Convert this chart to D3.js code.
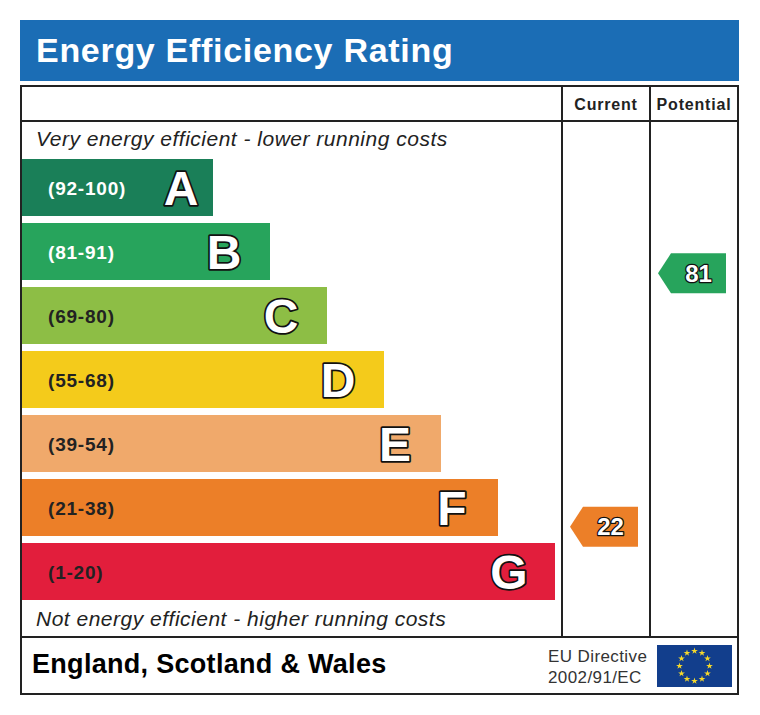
<!DOCTYPE html>
<html>
<head>
<meta charset="utf-8">
<script src="https://cdn.jsdelivr.net/npm/d3@7"></script>
<style>
  body { margin: 0; background: #fff; }
  svg { display: block; font-family: "Liberation Sans", Arial, sans-serif; }
</style>
</head>
<body>
<div id="epc"></div>
<script>
// ratings data
const bands = ["A", "B", "C", "D", "E", "F", "G"];
const ranges = ["(92-100)", "(81-91)", "(69-80)", "(55-68)", "(39-54)", "(21-38)", "(1-20)"];
const lows = [92, 81, 69, 55, 39, 21, 1];
const highs = [100, 91, 80, 68, 54, 38, 20];
const bandColors = ["#1a7f58", "#27a45c", "#8dbe45", "#f4cb1b", "#f0a96b", "#ec7f28", "#e21e3c"];
const columns = ["Current", "Potential"];
const scores = [22, 81];

const W = 760, H = 715;
const svg = d3.select("#epc").append("svg").attr("width", W).attr("height", H);

const frame = { left: 21, right: 738, top: 86, bottom: 694, head: 121, foot: 637 };
const colEdges = [562, 650, frame.right];

// title bar
svg.append("rect").attr("x", 20).attr("y", 20).attr("width", 719).attr("height", 61).attr("fill", "#1b6db5");
svg.append("text").attr("x", 36).attr("y", 62)
  .attr("fill", "#fff").attr("font-size", 34).attr("font-weight", "bold").attr("letter-spacing", 0.7)
  .text("Energy Efficiency Rating");

// scales
const y = d3.scaleBand().domain(bands).range([159, 600]).paddingInner(7 / 64).paddingOuter(0);
const barEnd = d3.scaleLinear().domain([0, bands.length - 1]).range([213, 555]);
const mids = bands.map((b, i) => (lows[i] + highs[i]) / 2);
const scoreY = d3.scaleLinear().domain(mids).range(bands.map(b => y(b) + y.bandwidth() / 2));
const bandOf = s => lows.findIndex(l => s >= l);

// bars
const rows = svg.append("g").selectAll("g").data(bands).join("g");
rows.append("rect")
  .attr("x", frame.left + 1).attr("y", d => y(d))
  .attr("width", (d, i) => barEnd(i) - frame.left - 1).attr("height", y.bandwidth())
  .attr("fill", (d, i) => bandColors[i]);
rows.append("text")
  .attr("x", 48).attr("y", d => y(d) + y.bandwidth() / 2 + 7)
  .attr("font-size", 19).attr("font-weight", "bold").attr("letter-spacing", 0.8)
  .attr("fill", (d, i) => i < 2 ? "#fff" : "#222")
  .text((d, i) => ranges[i]);
// grade letter: centred a little in from the bar end, but kept clear of the range label
rows.append("text")
  .attr("x", (d, i) => Math.max(barEnd(i) - 46, 181)).attr("y", d => y(d) + y.bandwidth() / 2 + 17)
  .attr("text-anchor", "middle").attr("font-size", 48).attr("font-weight", "bold")
  .attr("fill", "#fff").attr("stroke", "#111").attr("stroke-width", 3.5)
  .attr("stroke-linejoin", "round").attr("paint-order", "stroke")
  .text(d => d);

// italic notes
svg.append("text").attr("x", 36).attr("y", 146)
  .attr("font-size", 21).attr("font-style", "italic").attr("fill", "#222").attr("letter-spacing", 0.5)
  .text("Very energy efficient - lower running costs");
svg.append("text").attr("x", 36).attr("y", 626)
  .attr("font-size", 21).attr("font-style", "italic").attr("fill", "#222").attr("letter-spacing", 0.5)
  .text("Not energy efficient - higher running costs");

// frame lines
const lineCol = "#222";
svg.append("rect").attr("x", frame.left).attr("y", frame.top)
  .attr("width", frame.right - frame.left).attr("height", frame.bottom - frame.top)
  .attr("fill", "none").attr("stroke", lineCol).attr("stroke-width", 2);
[frame.head, frame.foot].forEach(v => svg.append("line")
  .attr("x1", frame.left).attr("x2", frame.right).attr("y1", v).attr("y2", v)
  .attr("stroke", lineCol).attr("stroke-width", 2));
colEdges.slice(0, 2).forEach(v => svg.append("line")
  .attr("x1", v).attr("x2", v).attr("y1", frame.top).attr("y2", frame.foot)
  .attr("stroke", lineCol).attr("stroke-width", 2));

// column headers
columns.forEach((c, i) => {
  svg.append("text").attr("x", (colEdges[i] + colEdges[i + 1]) / 2).attr("y", 110)
    .attr("text-anchor", "middle").attr("font-size", 16).attr("font-weight", "bold")
    .attr("letter-spacing", 0.8).attr("fill", "#222").text(c);
});

// score arrows
const aw = 68, ah = 40, tip = 13;
scores.forEach((s, i) => {
  const b = bandOf(s);
  const cy = scoreY(s) - 6;
  const x1 = colEdges[i + 1] - 12, x0 = x1 - aw;
  const g = svg.append("g");
  g.append("path")
    .attr("d", `M${x0},${cy} L${x0 + tip},${cy - ah / 2} L${x1},${cy - ah / 2} L${x1},${cy + ah / 2} L${x0 + tip},${cy + ah / 2} Z`)
    .attr("fill", bandColors[b]);
  g.append("text").attr("x", (x0 + tip + x1) / 2).attr("y", cy + 8.5)
    .attr("text-anchor", "middle").attr("font-size", 24).attr("font-weight", "bold")
    .attr("fill", "#fff").attr("stroke", "#111").attr("stroke-width", 2.5)
    .attr("stroke-linejoin", "round").attr("paint-order", "stroke")
    .text(s);
});

// footer
svg.append("text").attr("x", 32).attr("y", 673)
  .attr("font-size", 27).attr("font-weight", "bold").attr("fill", "#000").attr("letter-spacing", 0.3)
  .text("England, Scotland & Wales");
svg.append("text").attr("x", 548).attr("y", 662).attr("font-size", 17).attr("letter-spacing", 0.4)
  .attr("fill", "#333").text("EU Directive");
svg.append("text").attr("x", 548).attr("y", 683).attr("font-size", 17).attr("letter-spacing", 0.4)
  .attr("fill", "#333").text("2002/91/EC");

// EU flag
svg.append("rect").attr("x", 657).attr("y", 645).attr("width", 75).attr("height", 42).attr("fill", "#123e8c");
const star = d3.symbol().type(d3.symbolStar).size(14);
d3.range(12).forEach(k => {
  const a = k / 12 * 2 * Math.PI;
  svg.append("path").attr("d", star)
    .attr("transform", `translate(${694.5 + 15 * Math.sin(a)},${666 - 15 * Math.cos(a)})`)
    .attr("fill", "#f6d92b");
});
</script>
</body>
</html>
